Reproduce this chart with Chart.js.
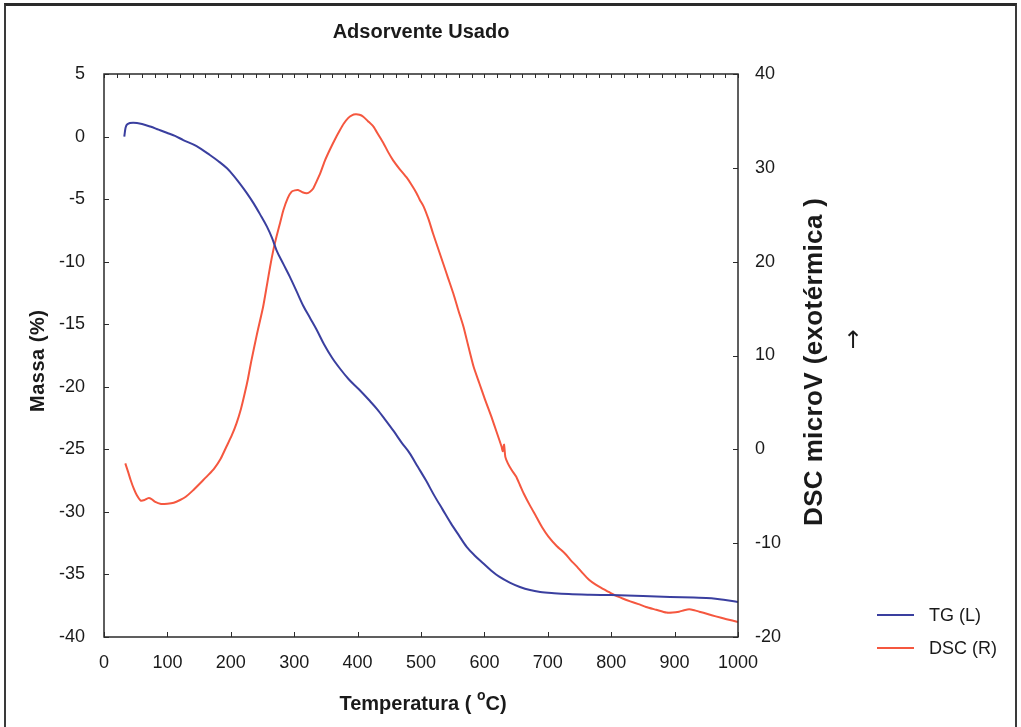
<!DOCTYPE html>
<html><head><meta charset="utf-8">
<script src="https://cdn.jsdelivr.net/npm/chart.js@4.4.1/dist/chart.umd.min.js"></script>
<style>
html,body{margin:0;padding:0;background:#fff;}
#wrap{position:relative;width:1021px;height:727px;overflow:hidden;background:#fff;}
#frame{position:absolute;left:4px;top:3px;width:1009px;height:740px;border-top:3px solid #2a2a2a;border-left:2px solid #3a3a3a;border-right:2px solid #3a3a3a;pointer-events:none;}
canvas{position:absolute;left:0;top:0;}
</style></head><body>
<div id="wrap"><canvas id="c" width="1021" height="727"></canvas><div id="frame"></div></div>
<script>
// ---- data ----
const tgTemp = [32,34,37,46,60,73,86,99,112,125,146,167,180,194,204,214,225,236,246,257,265,272,283,293,304,314,325,335,347,360,373,386,402,418,431,444,457,470,482,495,508,521,534,547,560,572,585,598,611,624,640,656,672,688,710,733,766,800,850,893,930,958,980,1000];
const tgMass = [0.0,0.7,1.0,1.1,1.0,0.8,0.55,0.3,0.05,-0.28,-0.76,-1.47,-1.95,-2.54,-3.1,-3.74,-4.5,-5.34,-6.2,-7.2,-8.1,-9.07,-10.2,-11.2,-12.4,-13.5,-14.5,-15.4,-16.6,-17.7,-18.6,-19.4,-20.2,-21.06,-21.8,-22.66,-23.55,-24.5,-25.3,-26.4,-27.5,-28.7,-29.8,-30.9,-31.9,-32.8,-33.5,-34.1,-34.7,-35.2,-35.65,-36.0,-36.25,-36.4,-36.5,-36.57,-36.62,-36.65,-36.72,-36.8,-36.85,-36.9,-37.05,-37.2];
const dscTemp = [33.6,38,42,47,51.6,58,64,70,75,80,90,100,110,120,129,140,154,165,174,184,193,201,209,216,222,227,232,241,251,257,262,267,272,278,283,290,296,301,306,313,320,325,330,335,341,348,356,364,372,378,385,391,397,403,409,416,425,433,441,448,456,466,477,485,493,498,504,512,519,527,535,543,551,559,567,575,583,592,601,611,619,627,629,631,633,637,643,650,656,662,672,682,691,701,714,727,736,746,755,765,775,785,796,807,818,830,843,855,871,887,897,907,915,923,931,939,952,965,982,1000];
const dscSignal = [-1.49,-2.4,-3.27,-4.2,-4.87,-5.47,-5.4,-5.2,-5.3,-5.58,-5.83,-5.8,-5.69,-5.4,-5.05,-4.4,-3.45,-2.7,-2.03,-1.0,0.28,1.4,2.77,4.3,5.97,7.5,9.3,12.2,15.2,17.5,19.46,21.2,22.66,24.2,25.5,26.8,27.46,27.6,27.64,27.4,27.3,27.45,27.8,28.5,29.4,30.7,31.9,33.0,34.0,34.7,35.3,35.6,35.7,35.65,35.45,35.0,34.4,33.5,32.6,31.7,30.8,29.9,29.0,28.2,27.3,26.6,25.9,24.5,23.0,21.4,19.8,18.2,16.6,14.8,13.07,10.9,8.8,7.04,5.3,3.48,1.9,0.3,-0.2,0.5,-0.8,-1.49,-2.2,-2.9,-3.8,-4.7,-6.0,-7.2,-8.3,-9.3,-10.3,-11.1,-11.8,-12.5,-13.2,-13.9,-14.4,-14.8,-15.2,-15.6,-15.9,-16.2,-16.5,-16.8,-17.1,-17.4,-17.4,-17.3,-17.15,-17.05,-17.15,-17.3,-17.55,-17.8,-18.1,-18.4];
const xTickValues = [0,100,200,300,400,500,600,700,800,900,1000];
const leftTickValues = [5,0,-5,-10,-15,-20,-25,-30,-35,-40];
const rightTickValues = [40,30,20,10,0,-10,-20];
const seriesNames = ['TG (L)','DSC (R)'];
const chartTitle = 'Adsorvente Usado';
const xTitle = ['Temperatura ( ','o','C)'];
const leftTitle = 'Massa (%)';
const rightTitle = 'DSC microV (exotérmica )';
const arrowText = '\u2191';

const BLUE = '#3a3f9f', RED = '#f5573f', INK = '#1a1a1a';
const FAM = '"Liberation Sans", Arial, "DejaVu Sans", sans-serif';

function fitted(ctx, text, cx, cy, rot, font, target){
  ctx.save();
  ctx.translate(cx, cy); ctx.rotate(rot);
  ctx.font = font; ctx.textBaseline = 'middle';
  ctx.letterSpacing = '0px';
  const base = ctx.measureText(text).width;
  let ls = 0;
  if (target) ls = (target - base) / (text.length - 1);
  ctx.letterSpacing = ls + 'px';
  ctx.textAlign = 'left';
  ctx.fillText(text, -(base + ls*(text.length-1))/2, 0);
  ctx.restore();
}

const decor = {
  id: 'decor',
  afterDraw(chart){
    const {ctx, chartArea: a, scales: {x, y, y2}} = chart;
    ctx.save();
    ctx.strokeStyle = '#2a2a2a';
    ctx.lineWidth = 1.5;
    ctx.strokeRect(a.left, a.top, a.right - a.left, a.bottom - a.top);
    ctx.lineWidth = 1;
    ctx.beginPath();
    for (let v = x.min; v <= x.max; v += 20) {
      const px = Math.round(x.getPixelForValue(v)) + 0.5;
      ctx.moveTo(px, a.top); ctx.lineTo(px, a.top + 4);
    }
    xTickValues.forEach(v => { const px = Math.round(x.getPixelForValue(v)) + 0.5; ctx.moveTo(px, a.bottom); ctx.lineTo(px, a.bottom - 5); });
    leftTickValues.forEach(v => { const py = Math.round(y.getPixelForValue(v)) + 0.5; ctx.moveTo(a.left, py); ctx.lineTo(a.left + 5, py); });
    rightTickValues.forEach(v => { const py = Math.round(y2.getPixelForValue(v)) + 0.5; ctx.moveTo(a.right, py); ctx.lineTo(a.right - 5, py); });
    ctx.stroke();

    ctx.fillStyle = INK;
    const cx = (a.left + a.right) / 2;
    ctx.font = 'bold 20px ' + FAM; ctx.textAlign = 'center'; ctx.textBaseline = 'middle';
    ctx.fillText(chartTitle, cx, 32);
    const fMain = 'bold 20px ' + FAM, fSup = 'bold 14px ' + FAM;
    ctx.font = fMain; const w0 = ctx.measureText(xTitle[0]).width; const w2 = ctx.measureText(xTitle[2]).width;
    ctx.font = fSup; const w1 = ctx.measureText(xTitle[1]).width;
    let sx = cx + 2 - (w0 + w1 + w2) / 2;
    ctx.textAlign = 'left';
    ctx.font = fMain; ctx.fillText(xTitle[0], sx, 704); sx += w0;
    ctx.font = fSup; ctx.fillText(xTitle[1], sx, 696); sx += w1;
    ctx.font = fMain; ctx.fillText(xTitle[2], sx, 704);
    fitted(ctx, leftTitle, 38, 361, -Math.PI/2, 'bold 20px ' + FAM, 102);
    fitted(ctx, rightTitle, 815, 362, -Math.PI/2, 'bold 26px ' + FAM, 328);
    ctx.font = '24px "DejaVu Sans", ' + FAM; ctx.textAlign = 'center'; ctx.textBaseline = 'middle';
    ctx.fillText(arrowText, 853, 342);
    const leg = [[BLUE, 615], [RED, 648]];
    leg.forEach((l, i) => {
      ctx.strokeStyle = l[0]; ctx.lineWidth = 2;
      ctx.beginPath(); ctx.moveTo(877, l[1]); ctx.lineTo(914, l[1]); ctx.stroke();
      ctx.fillStyle = INK; ctx.font = '18px ' + FAM; ctx.textAlign = 'left'; ctx.textBaseline = 'middle';
      ctx.fillText(seriesNames[i], 929, l[1] + 1);
    });
    ctx.restore();
  }
};

const tickFont = {family: '"Liberation Sans", Arial, sans-serif', size: 18};
const plain = v => String(v);
new Chart(document.getElementById('c'), {
  type: 'line',
  data: {
    datasets: [
      {label: seriesNames[0], data: tgTemp.map((t, i) => ({x: t, y: tgMass[i]})), borderColor: BLUE, borderWidth: 2, pointRadius: 0, yAxisID: 'y', cubicInterpolationMode: 'monotone'},
      {label: seriesNames[1], data: dscTemp.map((t, i) => ({x: t, y: dscSignal[i]})), borderColor: RED, borderWidth: 2, pointRadius: 0, yAxisID: 'y2', tension: 0.2}
    ]
  },
  options: {
    responsive: false, animation: false, devicePixelRatio: 1,
    layout: {padding: {top: 74, left: 0, right: 0, bottom: 0}},
    plugins: {legend: {display: false}, title: {display: false}, tooltip: {enabled: false}},
    scales: {
      x: {type: 'linear', position: 'bottom', min: 0, max: 1000,
          afterBuildTicks: s => { s.ticks = xTickValues.map(v => ({value: v})); },
          afterFit: s => { s.height = 90; },
          grid: {display: false}, border: {display: false},
          ticks: {font: tickFont, color: INK, padding: 7, maxRotation: 0, autoSkip: false, callback: plain}},
      y: {type: 'linear', position: 'left', min: -40, max: 5,
          afterBuildTicks: s => { s.ticks = leftTickValues.map(v => ({value: v})); },
          afterFit: s => { s.width = 104; },
          grid: {display: false}, border: {display: false},
          ticks: {font: tickFont, color: INK, padding: 11, callback: plain}},
      y2: {type: 'linear', position: 'right', min: -20, max: 40,
          afterBuildTicks: s => { s.ticks = rightTickValues.map(v => ({value: v})); },
          afterFit: s => { s.width = 283; },
          grid: {display: false}, border: {display: false},
          ticks: {font: tickFont, color: INK, padding: 9, callback: plain}}
    }
  },
  plugins: [decor]
});
</script>
</body></html>
